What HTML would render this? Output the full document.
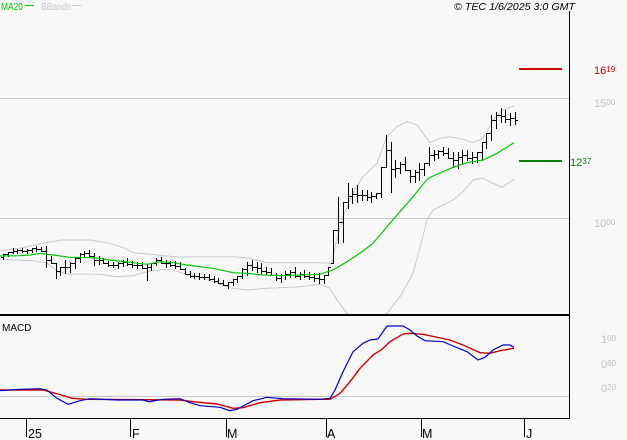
<!DOCTYPE html>
<html><head><meta charset="utf-8"><style>
html,body{margin:0;padding:0;background:#f8f8f8;}
svg{display:block;}
text{font-family:"Liberation Sans",Arial,sans-serif;}
</style></head><body>
<svg width="627" height="440" viewBox="0 0 627 440" xmlns="http://www.w3.org/2000/svg">
<rect width="627" height="440" fill="#f8f8f8"/>
<defs><clipPath id="top"><rect x="0" y="0" width="569" height="314"/></clipPath>
<clipPath id="mac"><rect x="0" y="316" width="569" height="103"/></clipPath></defs>

<!-- legend -->
<text x="1" y="10" font-size="10.5" fill="#00c000" textLength="22" lengthAdjust="spacingAndGlyphs">MA20</text>
<line x1="25" y1="5.5" x2="34" y2="5.5" stroke="#00c000" stroke-width="1"/>
<text x="41" y="10" font-size="10.5" fill="#c8c8c8" textLength="30" lengthAdjust="spacingAndGlyphs">BBands</text>
<line x1="72" y1="5.5" x2="81" y2="5.5" stroke="#c8c8c8" stroke-width="1"/>
<text x="454" y="10" font-size="10.5" font-style="italic" fill="#000" textLength="121" lengthAdjust="spacingAndGlyphs">© TEC 1/6/2025 3:0 GMT</text>

<!-- grid -->
<line x1="0" y1="98.5" x2="569" y2="98.5" stroke="#c8c8c8"/>
<line x1="0" y1="218.5" x2="569" y2="218.5" stroke="#c8c8c8"/>
<line x1="0" y1="396.5" x2="569" y2="396.5" stroke="#c8c8c8"/>

<g clip-path="url(#top)" fill="none">
<polyline stroke="#c8c8c8" stroke-width="1" points="0,250.7 20,248.3 43,243.3 62,240 90,240 110,243.3 125,248.3 133,252.7 150,254.3 180,257.3 193,256.7 233,256.7 247,257.7 267,262.7 320,262.7 332,263.3 335,246.7 343,216.7 353,193.3 363,176.7 377,163.3 383,146.7 387,136.7 397,126.7 407,121.7 417,125 423,133.3 430,142.7 440,138.3 450,136.7 463,139.3 473,142.7 483,138.3 493,120 503,110 514,106"/>
<polyline stroke="#c8c8c8" stroke-width="1" points="0,259.3 33,260.7 47,263.3 58,271.7 70,274 100,274.3 117,276.7 133,275.7 147,271.7 157,270 170,269.3 183,273.3 200,276.7 217,283.3 233,288.3 247,290 267,288.3 300,286.7 320,284.3 330,288.3 337,300 347,313.3 355,325 370,330 380,322 387,313.3 400,296.7 413,273.3 422,240 427,220 433,210 443,205 453,200 463,191.7 473,180 483,178.3 493,183.3 502,187.3 514,179.3"/>
<path stroke="#000" stroke-width="1" shape-rendering="crispEdges" d="M3.5 254V260M1 257.5h2M4 254.5h2M8.5 252V257M6 254.5h2M9 252.5h2M13.5 248V254M11 252.5h2M14 251.5h2M17.5 249V254M15 251.5h2M18 250.5h2M22.5 248V253M20 250.5h2M23 251.5h2M27.5 249V254M25 251.5h2M28 250.5h2M32.5 248V253M30 250.5h2M33 248.5h2M36.5 246V252M34 248.5h2M37 249.5h2M41.5 247V252M39 249.5h2M42 251.5h2M46.5 246V268M44 251.5h2M47 260.5h2M51.5 256V264M49 260.5h2M52 263.5h2M56.5 263V279M54 263.5h2M57 271.5h2M60.5 267V276M58 271.5h2M61 267.5h2M65.5 260V274M63 267.5h2M66 267.5h2M70.5 262V273M68 267.5h2M71 263.5h2M75.5 257V269M73 263.5h2M76 258.5h2M80.5 253V263M78 258.5h2M81 254.5h2M84.5 251V258M82 254.5h2M85 253.5h2M89.5 250V257M87 253.5h2M90 256.5h2M94.5 253V266M92 256.5h2M95 260.5h2M99.5 256V265M97 260.5h2M100 260.5h2M103.5 258V264M101 260.5h2M104 263.5h2M108.5 261V267M106 263.5h2M109 265.5h2M113.5 262V268M111 265.5h2M114 265.5h2M118.5 262V269M116 265.5h2M119 263.5h2M123.5 260V267M121 263.5h2M124 262.5h2M127.5 258V266M125 262.5h2M128 264.5h2M132.5 261V268M130 264.5h2M133 265.5h2M137.5 262V269M135 265.5h2M138 265.5h2M142.5 262V269M140 265.5h2M143 268.5h2M147.5 264V281M145 268.5h2M148 267.5h2M151.5 263V271M149 267.5h2M152 263.5h2M156.5 258V266M154 263.5h2M157 260.5h2M161.5 257V264M159 260.5h2M162 263.5h2M166.5 260V268M164 263.5h2M167 263.5h2M170.5 261V267M168 263.5h2M171 265.5h2M175.5 261V269M173 265.5h2M176 266.5h2M180.5 262V270M178 266.5h2M181 269.5h2M185.5 268V275M183 269.5h2M186 274.5h2M190.5 271V278M188 274.5h2M191 276.5h2M194.5 273V279M192 276.5h2M195 276.5h2M199.5 273V280M197 276.5h2M200 277.5h2M204.5 274V280M202 277.5h2M205 277.5h2M209.5 274V281M207 277.5h2M210 279.5h2M214.5 276V283M212 279.5h2M215 281.5h2M218.5 278V284M216 281.5h2M219 283.5h2M223.5 280V286M221 283.5h2M224 285.5h2M228.5 282V289M226 285.5h2M229 282.5h2M233.5 279V286M231 282.5h2M234 279.5h2M237.5 276V283M235 279.5h2M238 276.5h2M242.5 268V279M240 276.5h2M243 269.5h2M247.5 262V276M245 269.5h2M248 265.5h2M252.5 260V271M250 265.5h2M253 267.5h2M257.5 262V273M255 267.5h2M258 268.5h2M261.5 263V274M259 268.5h2M262 271.5h2M266.5 267V275M264 271.5h2M267 272.5h2M271.5 268V276M269 272.5h2M272 275.5h2M276.5 273V281M274 275.5h2M277 278.5h2M281.5 274V283M279 278.5h2M282 275.5h2M285.5 271V280M283 275.5h2M286 274.5h2M290.5 270V278M288 274.5h2M291 272.5h2M295.5 267V278M293 272.5h2M296 276.5h2M300.5 272V280M298 276.5h2M301 274.5h2M304.5 270V278M302 274.5h2M305 276.5h2M309.5 272V280M307 276.5h2M310 277.5h2M314.5 273V282M312 277.5h2M315 278.5h2M319.5 273V284M317 278.5h2M320 279.5h2M324.5 275V284M322 279.5h2M325 275.5h2M328.5 267V276M326 275.5h2M329 267.5h2M333.5 230V264M331 263.5h2M334 230.5h2M338.5 197V244M336 230.5h2M339 222.5h2M343.5 202V243M341 222.5h2M344 202.5h2M348.5 183V209M346 202.5h2M349 196.5h2M352.5 188V204M350 196.5h2M353 194.5h2M357.5 185V203M355 194.5h2M358 195.5h2M362.5 190V201M360 195.5h2M363 195.5h2M367.5 190V201M365 195.5h2M368 197.5h2M371.5 192V203M369 197.5h2M372 196.5h2M376.5 193V199M374 196.5h2M377 193.5h2M381.5 167V198M379 193.5h2M382 167.5h2M386.5 135V168M384 167.5h2M387 150.5h2M391.5 142V193M389 150.5h2M392 169.5h2M395.5 160V178M393 169.5h2M396 168.5h2M400.5 162V174M398 168.5h2M401 164.5h2M405.5 157V171M403 164.5h2M406 170.5h2M410.5 170V183M408 170.5h2M411 176.5h2M415.5 170V183M413 176.5h2M416 172.5h2M419.5 163V181M417 172.5h2M420 169.5h2M424.5 163V176M422 169.5h2M425 163.5h2M429.5 147V166M427 163.5h2M430 155.5h2M434.5 150V161M432 155.5h2M435 154.5h2M438.5 150V159M436 154.5h2M439 151.5h2M443.5 147V156M441 151.5h2M444 153.5h2M448.5 148V159M446 153.5h2M449 158.5h2M453.5 152V168M451 158.5h2M454 160.5h2M458.5 152V169M456 160.5h2M459 157.5h2M462.5 150V164M460 157.5h2M463 155.5h2M467.5 150V161M465 155.5h2M468 158.5h2M472.5 152V164M470 158.5h2M473 157.5h2M477.5 152V163M475 157.5h2M478 152.5h2M482.5 142V161M480 152.5h2M483 142.5h2M486.5 133V149M484 142.5h2M487 133.5h2M491.5 115V141M489 133.5h2M492 120.5h2M496.5 112V129M494 120.5h2M497 115.5h2M501.5 108V123M499 115.5h2M502 116.5h2M505.5 110V123M503 116.5h2M506 119.5h2M510.5 113V126M508 119.5h2M511 118.5h2M515.5 112V125M513 118.5h2M516 120.5h2"/>
<polyline stroke="#00c800" stroke-width="1.2" points="0,256 20,255.7 30,255 40,253.3 53,255 70,257.3 93,257.7 110,260 133,262.7 147,264.3 160,261.7 173,262.7 187,265 213,268.3 233,272.7 247,273.3 263,275 283,275.7 320,274.3 333,270 347,261.7 362,251.7 373,243.3 387,226.7 400,211.7 413,196.7 427,179.3 433,176 453,167.3 467,162.7 483,160 497,153.3 514,142.7"/>
</g>

<!-- target lines -->
<rect x="519" y="68" width="43" height="2" fill="#cc0000"/>
<rect x="519" y="160" width="43" height="2" fill="#008000"/>
<text x="594" y="74" font-size="11" fill="#cc0000">16<tspan font-size="8" dy="-2">19</tspan></text>
<text x="594" y="107" font-size="11" fill="#c0c0c0">15<tspan font-size="8" dy="-2">00</tspan></text>
<text x="594" y="227" font-size="11" fill="#c0c0c0">10<tspan font-size="8" dy="-2">00</tspan></text>
<text x="570" y="166" font-size="11" fill="#008000">12<tspan font-size="8" dy="-2">37</tspan></text>

<!-- panel separators / axis -->
<rect x="0" y="314" width="570" height="2" fill="#000"/>
<line x1="569.5" y1="11" x2="569.5" y2="419" stroke="#000"/>
<line x1="0" y1="418.5" x2="570" y2="418.5" stroke="#000"/>

<!-- MACD -->
<text x="2" y="331" font-size="10" fill="#000">MACD</text>
<g clip-path="url(#mac)" fill="none">
<polyline stroke="#cc0000" stroke-width="1.4" points="0,390 43,390 58,394 72,398.3 87,399.3 180,400 193,401.7 217,404 233,408.3 243,407.7 260,402.7 280,400 320,399.3 330,399.3 340,393.3 350,381.7 360,368.3 373,355 382,349.3 390,341.7 403,334 410,333.3 423,334.3 450,340 463,345 480,352.7 490,353.3 500,350.7 514,348.3"/>
<polyline stroke="#0000cc" stroke-width="1.2" points="0,390.7 20,389.3 40,388.7 47,390 57,398.3 68,404.3 80,400.7 90,398.7 117,400 143,400 149,401.7 163,399.3 180,398.7 190,402.7 200,405.7 220,407.3 230,410.7 237,409.3 253,400.7 267,397.3 283,398.7 320,399.3 330,398.3 335,390 343,371.7 353,351.7 363,343.3 370,340 378,339 387,326 403,326 410,330 417,336 425,340.7 443,341.7 453,346 467,351.7 478,360 485,357.3 493,350 503,345 510,345 514,347.3"/>
</g>
<text x="601" y="343" font-size="11" fill="#c0c0c0">1<tspan font-size="8" dy="-2">00</tspan></text>
<text x="601" y="368" font-size="11" fill="#c0c0c0">0<tspan font-size="8" dy="-2">60</tspan></text>
<text x="601" y="392" font-size="11" fill="#c0c0c0">0<tspan font-size="8" dy="-2">20</tspan></text>

<!-- x axis -->
<path stroke="#000" stroke-width="1" d="M26.5 419V437M130.5 419V437M226.5 419V437M326.5 419V437M421.5 419V437M524.5 419V437"/>
<g font-size="12.5" fill="#000">
<text x="28" y="438">25</text>
<text x="132" y="438">F</text>
<text x="227" y="438">M</text>
<text x="327" y="438">A</text>
<text x="422" y="438">M</text>
<text x="526" y="438">J</text>
</g>
</svg>
</body></html>
